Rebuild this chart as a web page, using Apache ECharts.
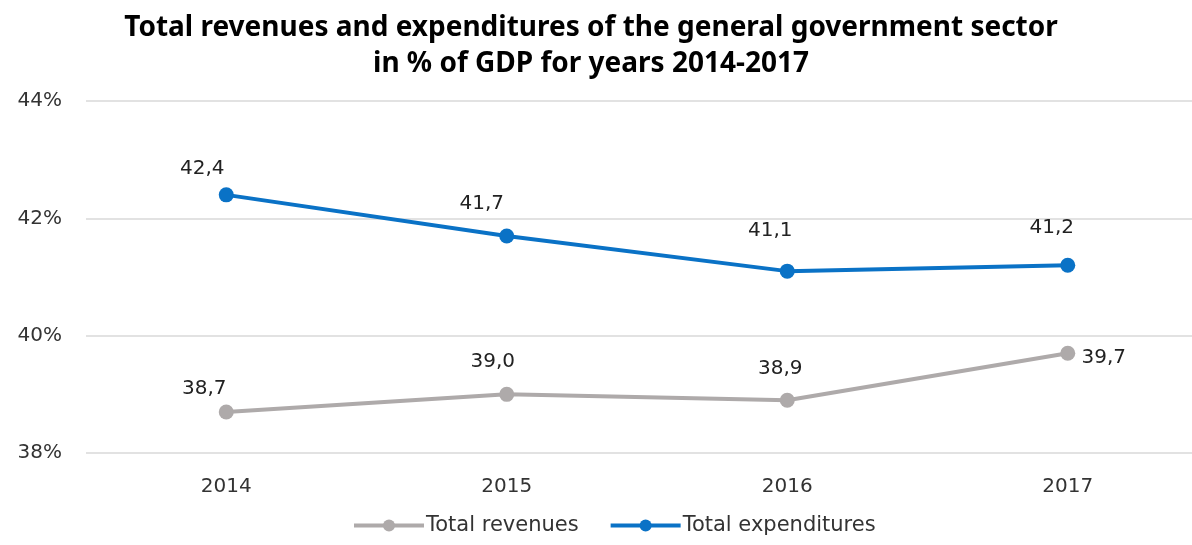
<!DOCTYPE html>
<html><head><meta charset="utf-8">
<script src="https://cdn.jsdelivr.net/npm/echarts@6/dist/echarts.min.js"></script>
<style>html,body{margin:0;padding:0;background:#fff}#c{width:1192px;height:545px}</style>
</head><body><div id="c"></div>
<script>
const titleText = 'Total revenues and expenditures of the general government sector\nin % of GDP for years 2014-2017';
const years = ['2014', '2015', '2016', '2017'];
const revenues = [38.7, 39.0, 38.9, 39.7];
const expenditures = [42.4, 41.7, 41.1, 41.2];
const yTicks = [38, 40, 42, 44];
const seriesNames = ['Total revenues', 'Total expenditures'];

// label placement (layout only, pixel offsets from each point's centre)
const revLabelOffsets = [[-22, -23], [-14, -33], [-7, -31], [36, 5]];
const expLabelOffsets = [[-24, -26], [-25, -32], [-17, -40], [-16, -37]];

const font = 'DejaVu Sans';
const titleFont = 'Noto Sans';
const fmt = p => p.value.toFixed(1).replace('.', ',');
const withLabels = (vals, offs) => vals.map((v, i) => ({value: v, label: {offset: offs[i]}}));
const labelBase = {show: true, position: 'inside', formatter: fmt, fontFamily: font, fontSize: 20, color: '#222'};
const chart = echarts.init(document.getElementById('c'), null, {renderer: 'canvas'});
chart.setOption({
  animation: false,
  backgroundColor: '#fff',
  title: {
    text: titleText, left: 586, top: 5, textAlign: 'center',
    textStyle: {fontFamily: titleFont, fontWeight: 'bold', fontSize: 28, color: '#000', lineHeight: 36}
  },
  legend: {
    bottom: 4, left: 347, itemWidth: 70, itemHeight: 15, itemGap: 30,
    lineStyle: {width: 4},
    textStyle: {fontFamily: font, fontSize: 21, color: '#333', padding: [0, 0, 0, -3]},
    data: seriesNames
  },
  grid: {left: 86, top: 101, width: 1122, height: 352, outerBoundsMode: 'none', containLabel: false},
  xAxis: {
    type: 'category', data: years, boundaryGap: true,
    axisLine: {show: false}, axisTick: {show: false},
    axisLabel: {fontFamily: font, fontSize: 20, color: '#333', margin: 24}
  },
  yAxis: {
    type: 'value', min: yTicks[0], max: yTicks[yTicks.length - 1], interval: 2,
    axisLine: {show: false}, axisTick: {show: false},
    splitLine: {lineStyle: {color: '#d9d9d9', width: 1.5}},
    axisLabel: {fontFamily: font, fontSize: 20, color: '#333', margin: 24, formatter: v => v + '%'}
  },
  series: [
    {
      name: seriesNames[0], type: 'line',
      data: withLabels(revenues, revLabelOffsets),
      symbol: 'circle', symbolSize: 15,
      lineStyle: {color: '#aeaaaa', width: 4}, itemStyle: {color: '#aeaaaa'},
      label: labelBase
    },
    {
      name: seriesNames[1], type: 'line',
      data: withLabels(expenditures, expLabelOffsets),
      symbol: 'circle', symbolSize: 15,
      lineStyle: {color: '#0a72c6', width: 4}, itemStyle: {color: '#0a72c6'},
      label: labelBase
    }
  ]
});
</script></body></html>
